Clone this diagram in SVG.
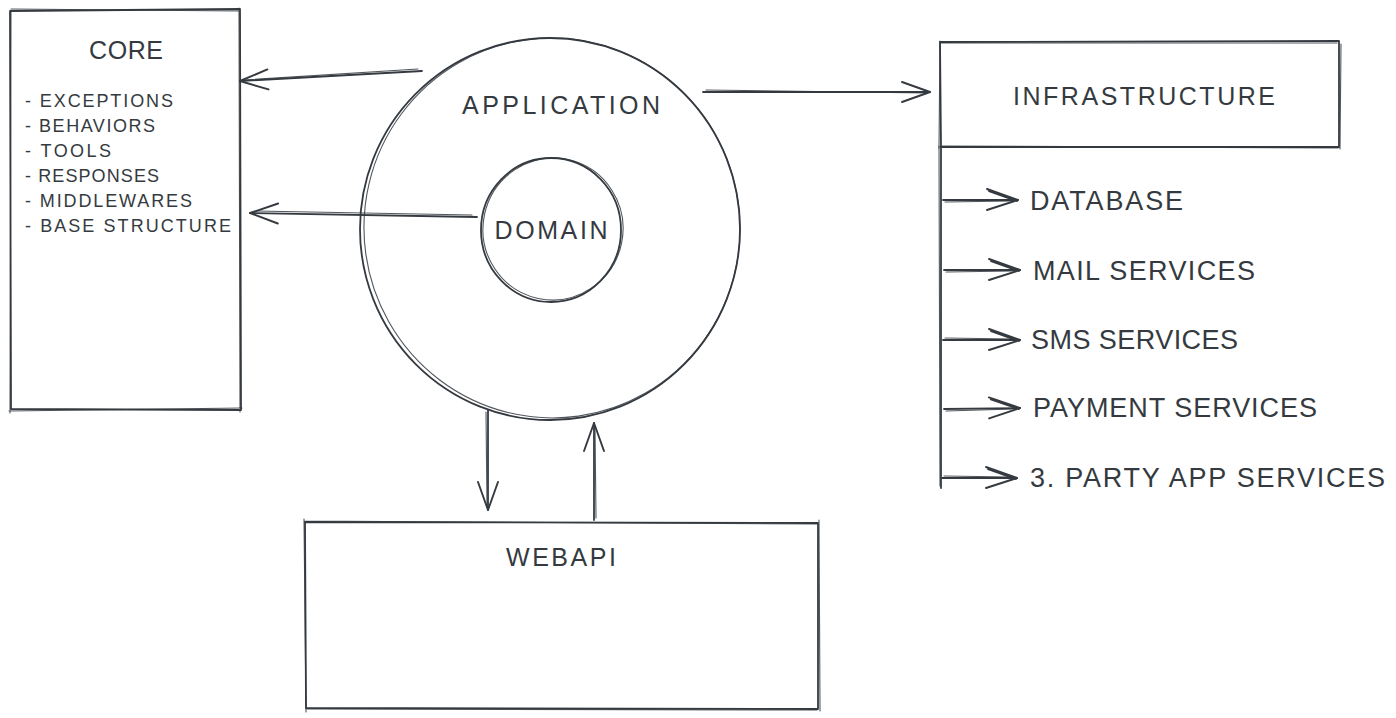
<svg xmlns="http://www.w3.org/2000/svg" width="1396" height="718" viewBox="0 0 1396 718">
  <style>
    .bg { fill: #ffffff; }
    .s { fill: none; stroke: #343a40; stroke-width: 1.8; stroke-linecap: round; stroke-linejoin: round; }
    .s2 { fill: none; stroke: #343a40; stroke-width: 1.1; stroke-linecap: round; stroke-linejoin: round; opacity: 0.85; }
    .t { font-family: "Liberation Sans", Arial, sans-serif; fill: #343a40; }
    .title { font-size: 25px; text-anchor: middle; }
    .item { font-size: 18px; }
    .svc { font-size: 27px; }
  </style>
  <defs>
    <marker id="head" markerUnits="userSpaceOnUse" orient="auto" refX="0" refY="0" markerWidth="40" markerHeight="40" overflow="visible">
      <path d="M-28,-10 L0,0 L-28,10" fill="none" stroke="#343a40" stroke-width="1.9" stroke-linecap="round" stroke-linejoin="round"/>
    </marker>
    <marker id="headL" markerUnits="userSpaceOnUse" orient="auto" refX="0" refY="0" markerWidth="40" markerHeight="40" overflow="visible">
      <path d="M-31,-11 L0,0 L-31,10 M-29,-9 L-1,1" fill="none" stroke="#343a40" stroke-width="1.9" stroke-linecap="round" stroke-linejoin="round"/>
    </marker>
  </defs>
  <rect class="bg" x="0" y="0" width="1396" height="718"/>

  <g id="core">
    <path class="s" d="M10 11 L240 9 L241 410 L11 409 Z"/>
    <path class="s2" d="M11 9 L239 11 M239 8 L240 412 M242 408 L9 411 M10 413 L11 12"/>
    <text class="t title" x="126" y="59" font-size="23" textLength="74">CORE</text>
    <text class="t item" x="25" y="107" textLength="148">- EXCEPTIONS</text>
    <text class="t item" x="25" y="132" textLength="130">- BEHAVIORS</text>
    <text class="t item" x="25" y="157" textLength="86">- TOOLS</text>
    <text class="t item" x="25" y="182" textLength="134">- RESPONSES</text>
    <text class="t item" x="25" y="207" textLength="167">- MIDDLEWARES</text>
    <text class="t item" x="25" y="232" textLength="206">- BASE STRUCTURE</text>
  </g>

  <g id="application">
    <ellipse class="s" cx="550" cy="229" rx="190" ry="191"/>
    <ellipse class="s2" cx="552" cy="228" rx="188" ry="190" transform="rotate(-8 552 228)"/>
    <text class="t title" x="561" y="114" textLength="198">APPLICATION</text>
  </g>

  <g id="domain">
    <ellipse class="s" cx="551" cy="230" rx="70" ry="72"/>
    <ellipse class="s2" cx="553" cy="229" rx="70" ry="71" transform="rotate(12 553 229)"/>
    <text class="t title" x="551" y="239" font-size="27" textLength="113">DOMAIN</text>
  </g>

  <g id="infrastructure">
    <path class="s" d="M940 42 L1339 41 L1339 147 L941 147 Z"/>
    <path class="s2" d="M941 43 L1337 43 M1341 44 L1340 149 M1338 148 L942 146 M939 148 L940 41"/>
    <text class="t title" x="1144" y="105" textLength="262">INFRASTRUCTURE</text>
  </g>

  <g id="webapi">
    <path class="s" d="M305 522 L818 523 L818 709 L306 708 Z"/>
    <path class="s2" d="M304 521 L817 524 M819 520 L820 711 M817 710 L307 709 M306 712 L304 519"/>
    <text class="t title" x="561" y="566" font-size="26" textLength="110">WEBAPI</text>
  </g>

  <g id="database">
    <text class="t svc" x="1030" y="210" textLength="153">DATABASE</text>
  </g>
  <g id="mail-services">
    <text class="t svc" x="1033" y="280" textLength="222">MAIL SERVICES</text>
  </g>
  <g id="sms-services">
    <text class="t svc" x="1031" y="349" textLength="207">SMS SERVICES</text>
  </g>
  <g id="payment-services">
    <text class="t svc" x="1033" y="417" textLength="284">PAYMENT SERVICES</text>
  </g>
  <g id="third-party-services">
    <text class="t svc" x="1030" y="487" textLength="355">3. PARTY APP SERVICES</text>
  </g>

  <g id="connectors">
    <!-- application -> core -->
    <path class="s" d="M422 71 L240 81" marker-end="url(#head)"/>
    <path class="s2" d="M418 69 L244 80"/>
    <!-- domain -> core -->
    <path class="s" d="M477 217 L250 213" marker-end="url(#head)"/>
    <path class="s2" d="M472 215 L256 211"/>
    <!-- application -> infrastructure -->
    <path class="s" d="M703 92 L930 92" marker-end="url(#head)"/>
    <path class="s2" d="M706 90 L926 93"/>
    <!-- application -> webapi -->
    <path class="s" d="M488 410 L488 510" marker-end="url(#head)"/>
    <path class="s2" d="M486 412 L487 506"/>
    <!-- webapi -> application -->
    <path class="s" d="M594 520 L594 423" marker-end="url(#head)"/>
    <path class="s2" d="M596 518 L595 427"/>
    <!-- infrastructure trunk -->
    <path class="s" d="M941 147 L941 488"/>
    <path class="s2" d="M939 146 L940 486"/>
    <!-- branches -->
    <path class="s" d="M943 200 L1018 200" marker-end="url(#headL)"/>
    <path class="s2" d="M945 202 L1012 201"/>
    <path class="s" d="M944 270 L1020 270" marker-end="url(#headL)"/>
    <path class="s2" d="M946 272 L1014 271"/>
    <path class="s" d="M943 340 L1020 340" marker-end="url(#headL)"/>
    <path class="s2" d="M945 338 L1014 339"/>
    <path class="s" d="M944 409 L1020 408" marker-end="url(#headL)"/>
    <path class="s2" d="M946 411 L1014 409"/>
    <path class="s" d="M942 478 L1017 478" marker-end="url(#headL)"/>
    <path class="s2" d="M944 476 L1011 477"/>
  </g>
</svg>
